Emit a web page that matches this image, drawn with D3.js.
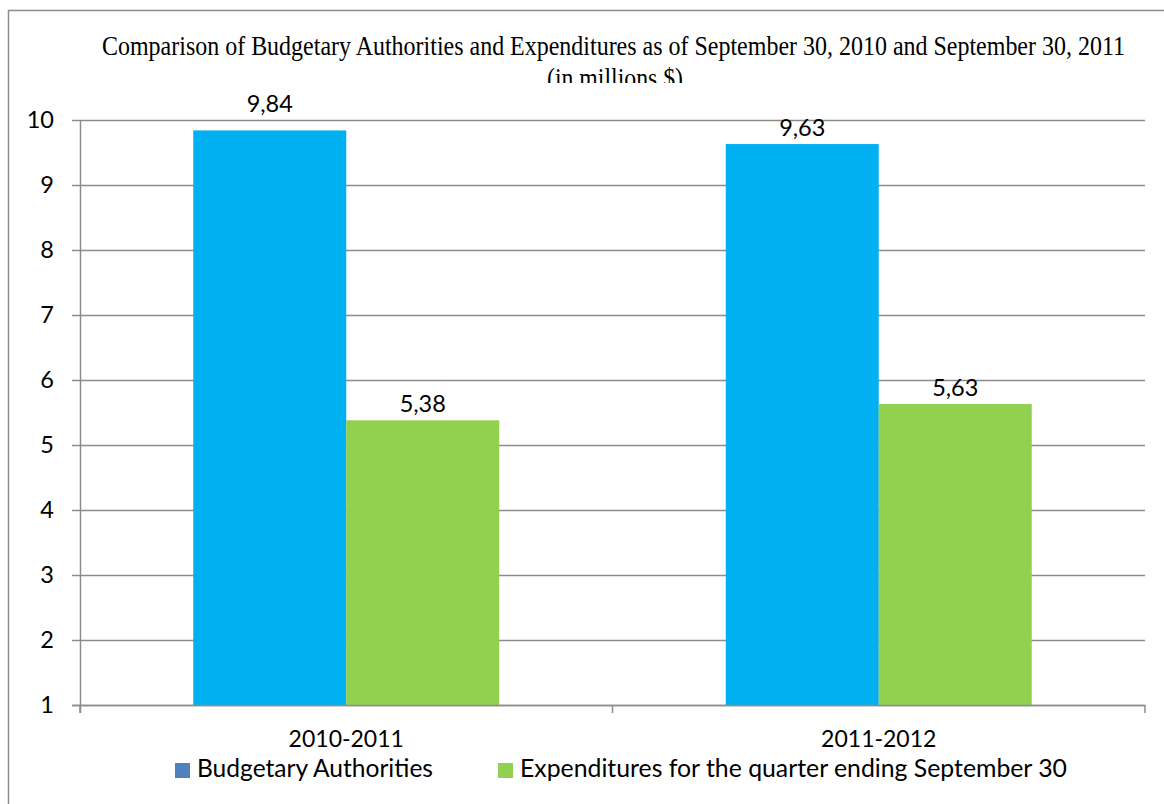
<!DOCTYPE html>
<html><head><meta charset="utf-8">
<script src="https://cdn.jsdelivr.net/npm/d3@7"></script>
<style>body{margin:0;background:#fff}svg{display:block}</style>
</head><body>
<svg id="c" width="1164" height="804"></svg>
<script>
const categories = ["2010-2011", "2011-2012"];
const seriesNames = ["Budgetary Authorities", "Expenditures for the quarter ending September 30"];
const budgetary = [9.84, 9.63];
const expenditures = [5.38, 5.63];
const yTicks = [1,2,3,4,5,6,7,8,9,10];
const titleLines = ["Comparison of Budgetary Authorities and Expenditures as of September 30, 2010 and September 30, 2011", "(in millions $)"];

const barColors = ["#00B0F0", "#92D050"];
const legendColors = ["#4F81BD", "#92D050"];
const font = "Lato, 'Open Sans', sans-serif";
const serif = "'Liberation Serif', 'Times New Roman', serif";

const svg = d3.select("#c");
const m = {left: 80, right: 1145, top: 120, bottom: 705};

// outer frame
svg.append("path").attr("d", "M8.5,820 V10.5 H1170").attr("fill","none").attr("stroke","#8c8c8c").attr("stroke-width",1.5);

const x0 = d3.scaleBand().domain(categories).range([m.left, m.right]).paddingInner(0).paddingOuter(0);
const y = d3.scaleLinear().domain([1,10]).range([m.bottom, m.top]);

// grid
svg.append("g").selectAll("line").data(yTicks).join("line")
  .attr("x1", m.left-8).attr("x2", m.right)
  .attr("y1", d=>Math.round(y(d))+0.5).attr("y2", d=>Math.round(y(d))+0.5)
  .attr("stroke","#8c8c8c").attr("stroke-width",1.5);

// y labels
svg.append("g").selectAll("text").data(yTicks).join("text")
  .attr("x", 54).attr("y", d=>y(d)+8).attr("text-anchor","end")
  .attr("font-family",font).attr("font-size",23.5).attr("fill","#000").text(d=>d);

// bars
const barW = 153;
const series = [budgetary, expenditures];
categories.forEach((c,i)=>{
  const cx = x0(c) + x0.bandwidth()/2;
  series.forEach((s,j)=>{
    const xs = cx - barW + j*barW;
    svg.append("rect").attr("x", xs).attr("width", barW)
      .attr("y", y(s[i])).attr("height", y(1)-y(s[i])).attr("fill", barColors[j]);
    let by = y(s[i]) - 8;
    if (by < m.top + 10) by = m.top - 8;
    svg.append("text").attr("x", xs+barW/2).attr("y", by).attr("text-anchor","middle")
      .attr("font-family",font).attr("font-size",23.5).attr("fill","#000")
      .text(d3.format(".2f")(s[i]).replace(".",","));
  });
});

// axes lines
svg.append("line").attr("x1",m.left+0.5).attr("x2",m.left+0.5).attr("y1",m.top).attr("y2",m.bottom+8).attr("stroke","#8c8c8c").attr("stroke-width",1.5);
svg.append("line").attr("x1",m.left-8).attr("x2",m.right).attr("y1",m.bottom+0.5).attr("y2",m.bottom+0.5).attr("stroke","#8c8c8c").attr("stroke-width",1.5);
const xt = [m.left, m.left + x0.bandwidth(), m.right];
svg.append("g").selectAll("line").data(xt).join("line")
  .attr("x1",d=>d).attr("x2",d=>d).attr("y1",m.bottom).attr("y2",m.bottom+8)
  .attr("stroke","#8c8c8c").attr("stroke-width",1.5);

// category labels
svg.append("g").selectAll("text").data(categories).join("text")
  .attr("x", d=>x0(d)+x0.bandwidth()/2).attr("y", 747).attr("text-anchor","middle")
  .attr("font-family",font).attr("font-size",23).attr("fill","#000").text(d=>d);

// title
const defs = svg.append("defs");
defs.append("clipPath").attr("id","tclip").append("rect").attr("x",0).attr("y",0).attr("width",1164).attr("height",83);
const tg = svg.append("g").attr("clip-path","url(#tclip)");
tg.append("text").attr("x",613.5).attr("y",55).attr("text-anchor","middle")
  .attr("font-family",serif).attr("font-size",27)
  .attr("textLength",1023).attr("lengthAdjust","spacingAndGlyphs").text(titleLines[0]);
tg.append("text").attr("x",615).attr("y",87).attr("text-anchor","middle")
  .attr("font-family",serif).attr("font-size",27)
  .attr("textLength",136).attr("lengthAdjust","spacingAndGlyphs").text(titleLines[1]);

// legend
const leg = [{x:175, tx:197, len:236}, {x:498, tx:520, len:547}];
seriesNames.forEach((n,i)=>{
  svg.append("rect").attr("x",leg[i].x).attr("y",763).attr("width",15).attr("height",15).attr("fill",legendColors[i]);
  svg.append("text").attr("x",leg[i].tx).attr("y",777).attr("font-family",font).attr("font-size",24.5)
    .attr("textLength",leg[i].len).attr("lengthAdjust","spacingAndGlyphs")
    .attr("fill","#000").text(n);
});
</script>
</body></html>
